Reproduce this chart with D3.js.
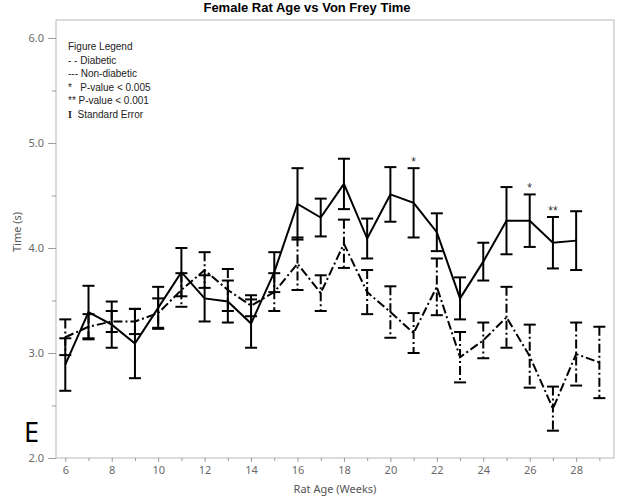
<!DOCTYPE html>
<html>
<head>
<meta charset="utf-8">
<script src="https://cdn.jsdelivr.net/npm/d3@7"></script>
<style>
  body { margin: 0; background: #fff; }
  svg { display: block; }
</style>
</head>
<body>
<svg id="chart"></svg>
<script>
// data
var nonDiabWeeks = [6, 7, 8, 9, 10, 11, 12, 13, 14, 15, 16, 17, 18, 19, 20, 21, 22, 23, 24, 25, 26, 27, 28];
var nonDiabMean  = [2.89, 3.39, 3.27, 3.09, 3.43, 3.77, 3.52, 3.49, 3.28, 3.77, 4.42, 4.29, 4.61, 4.09, 4.51, 4.43, 4.15, 3.52, 3.87, 4.26, 4.26, 4.05, 4.07];
var nonDiabSE    = [0.25, 0.25, 0.22, 0.33, 0.20, 0.23, 0.22, 0.20, 0.23, 0.19, 0.34, 0.18, 0.24, 0.19, 0.26, 0.33, 0.18, 0.20, 0.18, 0.32, 0.25, 0.245, 0.28];

var diabWeeks = [6, 7, 8, 9, 10, 11, 12, 13, 14, 15, 16, 17, 18, 19, 20, 21, 22, 23, 24, 25, 26, 27, 28, 29];
var diabMean  = [3.15, 3.25, 3.30, 3.30, 3.38, 3.60, 3.79, 3.60, 3.45, 3.58, 3.85, 3.57, 4.04, 3.58, 3.39, 3.19, 3.63, 2.96, 3.12, 3.34, 2.97, 2.47, 2.99, 2.91];
var diabSE    = [0.17, 0.12, 0.10, 0.12, 0.14, 0.16, 0.17, 0.20, 0.10, 0.18, 0.25, 0.17, 0.23, 0.21, 0.245, 0.19, 0.27, 0.24, 0.17, 0.29, 0.30, 0.21, 0.30, 0.34];

var sigWeeks  = [21, 26, 27];
var sigLabels = ["*", "*", "**"];

var yMajor = [2, 3, 4, 5, 6];
var yMinor = [2.5, 3.5, 4.5, 5.5];
var xMajor = [6, 8, 10, 12, 14, 16, 18, 20, 22, 24, 26, 28];
var xMinor = [7, 9, 11, 13, 15, 17, 19, 21, 23, 25, 27, 29];

// legend rows: [symbol, text]
var legendRows = [["", "Figure Legend"], ["", "- - Diabetic"], ["", "--- Non-diabetic"],
                  ["", "*   P-value < 0.005"], ["", "** P-value < 0.001"], ["I", "  Standard Error"]];

var W = 618, H = 500;
var plotL = 56, plotR = 614, plotT = 20, plotB = 458;

var svg = d3.select("#chart").attr("width", W).attr("height", H);

var x = d3.scaleLinear().domain([5.6, 29.63]).range([plotL, plotR]);
var y = d3.scaleLinear().domain([2, 6.171]).range([plotB, plotT]);

// frame
svg.append("rect")
    .attr("x", plotL).attr("y", plotT)
    .attr("width", plotR - plotL).attr("height", plotB - plotT)
    .attr("fill", "none").attr("stroke", "#b8b8b8").attr("stroke-width", 1);

function styleAxis(g) {
    g.select(".domain").remove();
    g.selectAll(".tick line").attr("stroke", "#999");
    g.selectAll(".tick text").attr("fill", "#6a6a6a")
        .style("font-family", "'Noto Sans', 'Open Sans', sans-serif").style("font-size", "11px");
}

// y axis
svg.append("g").attr("transform", "translate(" + plotL + ",0)")
    .call(d3.axisLeft(y).tickValues(yMajor).tickSize(8).tickPadding(4).tickFormat(d3.format(".1f")))
    .call(styleAxis);
svg.append("g").attr("transform", "translate(" + plotL + ",0)")
    .call(d3.axisLeft(y).tickValues(yMinor).tickSize(4).tickFormat(""))
    .call(styleAxis);

// x axis
svg.append("g").attr("transform", "translate(0," + plotB + ")")
    .call(d3.axisBottom(x).tickValues(xMajor).tickSize(4).tickPadding(4))
    .call(styleAxis);
svg.append("g").attr("transform", "translate(0," + plotB + ")")
    .call(d3.axisBottom(x).tickValues(xMinor).tickSize(3).tickFormat(""))
    .call(styleAxis);

// titles
svg.append("text")
    .attr("x", 307).attr("y", 12)
    .attr("text-anchor", "middle")
    .style("font-family", "'Liberation Sans', Arial, sans-serif")
    .style("font-size", "13px").style("font-weight", "bold")
    .text("Female Rat Age vs Von Frey Time");

svg.append("text")
    .attr("x", 335).attr("y", 493)
    .attr("text-anchor", "middle")
    .attr("fill", "#555")
    .style("font-family", "'Noto Sans', 'Open Sans', sans-serif").style("font-size", "11px")
    .text("Rat Age (Weeks)");

svg.append("text")
    .attr("transform", "translate(21,232) rotate(-90)")
    .attr("text-anchor", "middle")
    .attr("fill", "#555")
    .style("font-family", "'Noto Sans', 'Open Sans', sans-serif").style("font-size", "11px")
    .text("Time (s)");

svg.append("text")
    .attr("x", 24).attr("y", 442)
    .style("font-family", "'Noto Sans', 'Open Sans', sans-serif").style("font-size", "27px")
    .text("E");

// legend
var leg = svg.append("g").selectAll("text")
    .data(legendRows).enter().append("text")
    .attr("x", 68)
    .attr("y", function(d, i) { return 50 + i * 13.6; })
    .attr("fill", "#222")
    .style("font-family", "'Liberation Sans', Arial, sans-serif").style("font-size", "10px")
    .attr("xml:space", "preserve");
leg.append("tspan")
    .style("font-family", "'Liberation Serif', serif").style("font-weight", "bold")
    .text(function(d) { return d[0]; });
leg.append("tspan")
    .text(function(d) { return d[1]; });

var dashPat = "9,3,2,3";

function drawSeries(weeks, mean, se, dash) {
    var pts = weeks.map(function(w, i) { return { w: w, m: mean[i], s: se[i] }; });
    var g = svg.append("g");
    var bars = g.selectAll("g.bar").data(pts).enter().append("g");
    bars.append("line")
        .attr("x1", function(d) { return x(d.w); }).attr("x2", function(d) { return x(d.w); })
        .attr("y1", function(d) { return y(d.m + d.s); }).attr("y2", function(d) { return y(d.m - d.s); })
        .attr("stroke", "#000").attr("stroke-width", 2)
        .attr("stroke-dasharray", dash);
    [1, -1].forEach(function(sign) {
        bars.append("line")
            .attr("x1", function(d) { return x(d.w) - 6; }).attr("x2", function(d) { return x(d.w) + 6; })
            .attr("y1", function(d) { return y(d.m + sign * d.s); }).attr("y2", function(d) { return y(d.m + sign * d.s); })
            .attr("stroke", "#000").attr("stroke-width", 2);
    });
    g.append("path")
        .datum(pts)
        .attr("fill", "none").attr("stroke", "#000").attr("stroke-width", 2)
        .attr("stroke-dasharray", dash)
        .attr("d", d3.line().x(function(d) { return x(d.w); }).y(function(d) { return y(d.m); }));
    return pts;
}

drawSeries(diabWeeks, diabMean, diabSE, dashPat);
drawSeries(nonDiabWeeks, nonDiabMean, nonDiabSE, null);

// significance markers above non-diabetic error bars
svg.append("g").selectAll("text")
    .data(sigWeeks).enter().append("text")
    .attr("x", function(d) { return x(d); })
    .attr("y", function(d) {
        var i = nonDiabWeeks.indexOf(d);
        return y(nonDiabMean[i] + nonDiabSE[i]) - 2;
    })
    .attr("text-anchor", "middle")
    .attr("fill", "#333")
    .style("font-family", "'Liberation Sans', Arial, sans-serif").style("font-size", "12px")
    .text(function(d, i) { return sigLabels[i]; });
</script>
</body>
</html>
